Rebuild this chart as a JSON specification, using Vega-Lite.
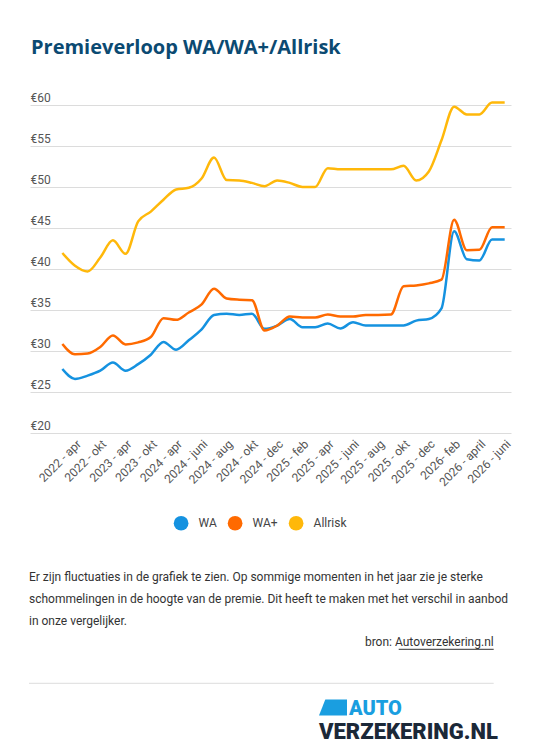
{
  "$schema": "https://vega.github.io/schema/vega-lite/v6.json",
  "width": 481,
  "height": 328,
  "autosize": {"type": "none"},
  "padding": {"left": 30, "top": 105, "right": 39, "bottom": 320},
  "background": "white",
  "config": {"view": {"stroke": null}, "font": "Roboto"},
  "layer": [
    {
      "data": {"values": [
        {"i":0,"type":"WA","premie":27.8},{"i":0,"type":"WA+","premie":30.85},{"i":0,"type":"Allrisk","premie":41.95},
        {"i":1,"type":"WA","premie":26.6},{"i":1,"type":"WA+","premie":29.6},{"i":1,"type":"Allrisk","premie":40.4},
        {"i":2,"type":"WA","premie":27.0},{"i":2,"type":"WA+","premie":29.7},{"i":2,"type":"Allrisk","premie":39.7},
        {"i":3,"type":"WA","premie":27.6},{"i":3,"type":"WA+","premie":30.5},{"i":3,"type":"Allrisk","premie":41.4},
        {"i":4,"type":"WA","premie":28.6},{"i":4,"type":"WA+","premie":31.9},{"i":4,"type":"Allrisk","premie":43.5},
        {"i":5,"type":"WA","premie":27.6},{"i":5,"type":"WA+","premie":30.8},{"i":5,"type":"Allrisk","premie":41.85},
        {"i":6,"type":"WA","premie":28.4},{"i":6,"type":"WA+","premie":31.05},{"i":6,"type":"Allrisk","premie":45.8},
        {"i":7,"type":"WA","premie":29.55},{"i":7,"type":"WA+","premie":31.7},{"i":7,"type":"Allrisk","premie":47.0},
        {"i":8,"type":"WA","premie":31.1},{"i":8,"type":"WA+","premie":34.0},{"i":8,"type":"Allrisk","premie":48.45},
        {"i":9,"type":"WA","premie":30.15},{"i":9,"type":"WA+","premie":33.8},{"i":9,"type":"Allrisk","premie":49.7},
        {"i":10,"type":"WA","premie":31.3},{"i":10,"type":"WA+","premie":34.7},{"i":10,"type":"Allrisk","premie":49.9},
        {"i":11,"type":"WA","premie":32.6},{"i":11,"type":"WA+","premie":35.65},{"i":11,"type":"Allrisk","premie":51.0},
        {"i":12,"type":"WA","premie":34.4},{"i":12,"type":"WA+","premie":37.6},{"i":12,"type":"Allrisk","premie":53.6},
        {"i":13,"type":"WA","premie":34.55},{"i":13,"type":"WA+","premie":36.4},{"i":13,"type":"Allrisk","premie":50.85},
        {"i":14,"type":"WA","premie":34.4},{"i":14,"type":"WA+","premie":36.25},{"i":14,"type":"Allrisk","premie":50.8},
        {"i":15,"type":"WA","premie":34.55},{"i":15,"type":"WA+","premie":36.2},{"i":15,"type":"Allrisk","premie":50.5},
        {"i":16,"type":"WA","premie":32.7},{"i":16,"type":"WA+","premie":32.5},{"i":16,"type":"Allrisk","premie":50.1},
        {"i":17,"type":"WA","premie":33.1},{"i":17,"type":"WA+","premie":33.1},{"i":17,"type":"Allrisk","premie":50.8},
        {"i":18,"type":"WA","premie":33.9},{"i":18,"type":"WA+","premie":34.2},{"i":18,"type":"Allrisk","premie":50.5},
        {"i":19,"type":"WA","premie":32.9},{"i":19,"type":"WA+","premie":34.1},{"i":19,"type":"Allrisk","premie":50.0},
        {"i":20,"type":"WA","premie":32.9},{"i":20,"type":"WA+","premie":34.1},{"i":20,"type":"Allrisk","premie":50.0},
        {"i":21,"type":"WA","premie":33.35},{"i":21,"type":"WA+","premie":34.45},{"i":21,"type":"Allrisk","premie":52.3},
        {"i":22,"type":"WA","premie":32.75},{"i":22,"type":"WA+","premie":34.2},{"i":22,"type":"Allrisk","premie":52.15},
        {"i":23,"type":"WA","premie":33.5},{"i":23,"type":"WA+","premie":34.2},{"i":23,"type":"Allrisk","premie":52.15},
        {"i":24,"type":"WA","premie":33.1},{"i":24,"type":"WA+","premie":34.4},{"i":24,"type":"Allrisk","premie":52.15},
        {"i":25,"type":"WA","premie":33.1},{"i":25,"type":"WA+","premie":34.4},{"i":25,"type":"Allrisk","premie":52.15},
        {"i":26,"type":"WA","premie":33.1},{"i":26,"type":"WA+","premie":34.45},{"i":26,"type":"Allrisk","premie":52.15},
        {"i":27,"type":"WA","premie":33.1},{"i":27,"type":"WA+","premie":37.9},{"i":27,"type":"Allrisk","premie":52.6},
        {"i":28,"type":"WA","premie":33.7},{"i":28,"type":"WA+","premie":38.0},{"i":28,"type":"Allrisk","premie":50.8},
        {"i":29,"type":"WA","premie":33.9},{"i":29,"type":"WA+","premie":38.25},{"i":29,"type":"Allrisk","premie":51.9},
        {"i":30,"type":"WA","premie":35.2},{"i":30,"type":"WA+","premie":38.7},{"i":30,"type":"Allrisk","premie":55.7},
        {"i":31,"type":"WA","premie":44.6},{"i":31,"type":"WA+","premie":46.0},{"i":31,"type":"Allrisk","premie":59.8},
        {"i":32,"type":"WA","premie":41.2},{"i":32,"type":"WA+","premie":42.3},{"i":32,"type":"Allrisk","premie":58.85},
        {"i":33,"type":"WA","premie":41.05},{"i":33,"type":"WA+","premie":42.35},{"i":33,"type":"Allrisk","premie":58.85},
        {"i":34,"type":"WA","premie":43.6},{"i":34,"type":"WA+","premie":45.1},{"i":34,"type":"Allrisk","premie":60.3},
        {"i":35,"type":"WA","premie":43.6},{"i":35,"type":"WA+","premie":45.1},{"i":35,"type":"Allrisk","premie":60.3}
      ]},
      "mark": {"type": "line", "interpolate": "monotone", "strokeWidth": 2.5},
      "encoding": {
        "x": {
          "field": "i", "type": "quantitative",
          "scale": {"domain": [-2.56, 35.5], "nice": false, "zero": false},
          "axis": {
            "values": [1,3,5,7,9,11,13,15,17,19,21,23,25,27,29,31,33,35],
            "labelExpr": "['2022 - apr','2022 - okt','2023 - apr','2023 - okt','2024 - apr','2024 - juni','2024 - aug','2024 - okt','2024 - dec','2025 - feb','2025 - apr','2025 - juni','2025 - aug','2025 - okt','2025 - dec','2026- feb','2026 - april','2026 - juni'][(datum.value-1)/2]",
            "labelAngle": -45, "grid": false, "ticks": false, "domain": false, "title": null,
            "labelFontSize": 12, "labelColor": "#555555", "labelPadding": 5, "labelFont": "Roboto", "labelOverlap": false
          }
        },
        "y": {
          "field": "premie", "type": "quantitative",
          "scale": {"domain": [20, 60], "nice": false, "zero": false},
          "axis": {
            "values": [20,25,30,35,40,45,50,55,60],
            "labelExpr": "'€' + datum.value",
            "title": null, "domain": false, "ticks": false, "tickSize": 0,
            "labelAlign": "left", "labelBaseline": "alphabetic", "labelPadding": 0, "labelOffset": -4,
            "labelFontSize": 12, "labelColor": "#555555", "labelFont": "Roboto",
            "gridColor": "#dcdcdc", "gridWidth": 1
          }
        },
        "color": {
          "field": "type", "type": "nominal",
          "scale": {"domain": ["WA", "WA+", "Allrisk"], "range": ["#1592e0", "#ff6a00", "#ffb80a"]},
          "legend": {
            "title": null, "orient": "none", "legendX": 143.6, "legendY": 410.7,
            "direction": "horizontal", "symbolType": "circle", "symbolSize": 216,
            "symbolStrokeWidth": 0, "labelFontSize": 12, "labelColor": "#444444", "labelFont": "Roboto",
            "labelOffset": 10, "columnPadding": 10, "padding": 0,
            "encode": {"symbols": {"update": {"fill": {"scale": "color", "field": "value"}, "fillOpacity": {"value": 1}}}}
          }
        }
      }
    },
    {
      "data": {"values": [{}]},
      "mark": {"type": "text", "align": "left", "baseline": "alphabetic", "font": "Open Sans", "fontWeight": 700, "fontSize": 20, "color": "#0b4a72"},
      "encoding": {"x": {"value": 1}, "y": {"value": -51}, "text": {"value": "Premieverloop WA/WA+/Allrisk"}}
    },
    {
      "data": {"values": [{}]},
      "mark": {"type": "text", "align": "left", "baseline": "alphabetic", "font": "Roboto", "fontSize": 12, "color": "#333333", "lineHeight": 22},
      "encoding": {"x": {"value": -1}, "y": {"value": 475.7}, "text": {"value": ["Er zijn fluctuaties in de grafiek te zien. Op sommige momenten in het jaar zie je sterke", "schommelingen in de hoogte van de premie. Dit heeft te maken met het verschil in aanbod", "in onze vergelijker."]}}
    },
    {
      "data": {"values": [{}]},
      "mark": {"type": "text", "align": "right", "baseline": "alphabetic", "font": "Roboto", "fontSize": 12, "color": "#333333"},
      "encoding": {"x": {"value": 463.7}, "y": {"value": 541}, "text": {"value": "bron: Autoverzekering.nl"}}
    },
    {
      "data": {"values": [{}]},
      "mark": {"type": "rule", "color": "#333333", "strokeWidth": 1},
      "encoding": {"x": {"value": 368.7}, "x2": {"value": 463.7}, "y": {"value": 544.3}}
    },
    {
      "data": {"values": [{}]},
      "mark": {"type": "rule", "color": "#dddddd", "strokeWidth": 1},
      "encoding": {"x": {"value": -1}, "x2": {"value": 463.7}, "y": {"value": 578.3}}
    },
    {
      "data": {"values": [{}]},
      "mark": {"type": "point", "shape": "M-0.55,-0.57L1,-0.57L1,0.57L-1,0.57Z", "filled": true, "color": "#1a9ee0", "opacity": 1, "size": 784},
      "encoding": {"x": {"value": 303}, "y": {"value": 602.5}}
    },
    {
      "data": {"values": [{}]},
      "mark": {"type": "text", "align": "left", "baseline": "alphabetic", "font": "Roboto", "fontWeight": 900, "fontSize": 20, "color": "#1a9ee0"},
      "encoding": {"x": {"value": 319}, "y": {"value": 609.5}, "text": {"value": "AUTO"}}
    },
    {
      "data": {"values": [{}]},
      "mark": {"type": "text", "align": "left", "baseline": "alphabetic", "font": "Roboto", "fontWeight": 900, "fontSize": 22, "color": "#1b2838"},
      "encoding": {"x": {"value": 289}, "y": {"value": 633.5}, "text": {"value": "VERZEKERING.NL"}}
    }
  ]
}
